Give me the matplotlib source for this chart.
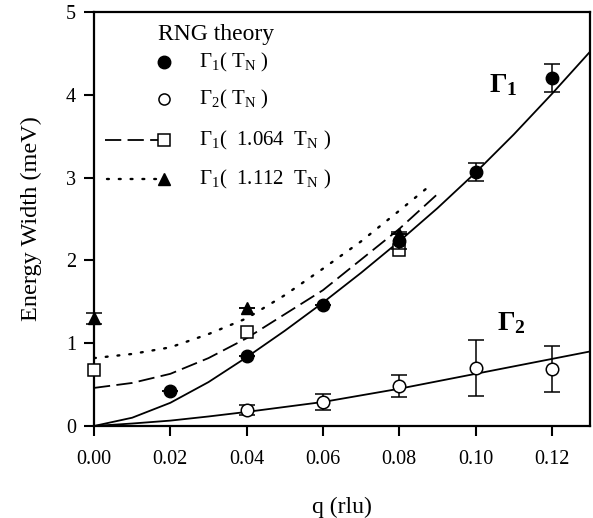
import matplotlib
matplotlib.use("Agg")
import matplotlib.pyplot as plt

plt.rcParams['font.family'] = ['Liberation Serif', 'DejaVu Serif']
plt.rcParams['mathtext.fontset'] = 'custom'
plt.rcParams['mathtext.rm'] = 'Liberation Serif'
plt.rcParams['mathtext.it'] = 'Liberation Serif:italic'
plt.rcParams['mathtext.bf'] = 'Liberation Serif:bold'

# ---- data ----
q_g1 = [0.02, 0.04, 0.06, 0.08, 0.10, 0.12]
g1_TN = [0.42, 0.85, 1.46, 2.24, 3.07, 4.20]
g1_err = [0.0, 0.0, 0.0, 0.10, 0.11, 0.17]

q_g2 = [0.04, 0.06, 0.08, 0.10, 0.12]
g2_TN = [0.19, 0.29, 0.48, 0.70, 0.69]
g2_err = [0.06, 0.10, 0.13, 0.34, 0.28]

q_sq = [0.00, 0.04, 0.08]
g1_1064 = [0.68, 1.13, 2.12]

q_tri = [0.00, 0.04, 0.08]
g1_1112 = [1.30, 1.42, 2.32]
g1_1112_err = [0.065, 0.0, 0.0]

# theory curves
q_fit = [0.00, 0.01, 0.02, 0.03, 0.04, 0.05, 0.06, 0.07, 0.08, 0.09, 0.10, 0.11, 0.12, 0.13]
g1_fit = [0.00, 0.10, 0.28, 0.53, 0.83, 1.15, 1.49, 1.85, 2.23, 2.63, 3.06, 3.52, 4.01, 4.52]
g2_fit = [0.00, 0.03, 0.065, 0.115, 0.17, 0.23, 0.29, 0.37, 0.45, 0.54, 0.63, 0.72, 0.81, 0.90]

q_dash = [0.00, 0.01, 0.02, 0.03, 0.04, 0.05, 0.06, 0.07, 0.08, 0.09]
g1_dash = [0.46, 0.52, 0.63, 0.82, 1.06, 1.35, 1.64, 2.01, 2.38, 2.80]

q_dot = [0.00, 0.01, 0.02, 0.03, 0.04, 0.05, 0.06, 0.07, 0.08, 0.0885]
g1_dot = [0.82, 0.87, 0.95, 1.11, 1.30, 1.58, 1.90, 2.23, 2.60, 2.92]

xticks = [0.00, 0.02, 0.04, 0.06, 0.08, 0.10, 0.12]
yticks = [0, 1, 2, 3, 4, 5]

legend_title = "RNG theory"
legend_labels = [r'Γ$_1$( T$_\mathrm{N}$ )', r'Γ$_2$( T$_\mathrm{N}$ )',
                 r'Γ$_1$(  1.064  T$_\mathrm{N}$ )', r'Γ$_1$(  1.112  T$_\mathrm{N}$ )']

# ---- figure ----
W, H = 593, 518
fig = plt.figure(figsize=(W / 100, H / 100), dpi=100)
L, R, T, B = 94, 590, 12, 426
ax = fig.add_axes([L / W, 1 - B / H, (R - L) / W, (B - T) / H])

lw = 1.3
ax.plot(q_fit, g1_fit, color='black', lw=lw)
ax.plot(q_fit, g2_fit, color='black', lw=lw)
ax.plot(q_dash, g1_dash, color='black', lw=1.3, ls=(0, (9, 3.5)))
ax.plot(q_dot, g1_dot, color='black', lw=1.7, ls=(0, (0.8, 4.2)), dash_capstyle='round')

ms = 9
conts = []
conts.append(ax.errorbar(q_g2, g2_TN, yerr=g2_err, fmt='o', mfc='white', mec='black', mew=1.1,
                         ms=ms, ecolor='black', elinewidth=1.1, capsize=5.5, capthick=1.1, zorder=4))
conts.append(ax.errorbar(q_sq, g1_1064, fmt='s', mfc='white', mec='black', mew=1.1, ms=8, zorder=5))
conts.append(ax.errorbar(q_tri, g1_1112, yerr=g1_1112_err, fmt='^', color='black', ms=9,
                         ecolor='black', elinewidth=1.1, capsize=5.5, capthick=1.1, zorder=6))
conts.append(ax.errorbar(q_g1, g1_TN, yerr=g1_err, fmt='o', color='black', ms=ms,
                         ecolor='black', elinewidth=1.1, capsize=5.5, capthick=1.1, zorder=7))
for c in conts:
    for child in c.get_children():
        child.set_clip_on(False)

ax.set_xlim(0, 0.13)
ax.set_ylim(0, 5)
ax.set_xticks(xticks)
ax.set_xticklabels([f"{v:.2f}" for v in xticks])
ax.set_yticks(yticks)
ax.set_yticklabels([str(v) for v in yticks])
for s in ax.spines.values():
    s.set_linewidth(1.6)
ax.tick_params(axis='both', direction='out', length=7, width=1.5, labelsize=14.5, pad=6)
ax.tick_params(axis='x', pad=10)
ax.set_xlabel('q (rlu)', fontsize=17, labelpad=20)
ax.set_ylabel('Energy Width (meV)', fontsize=17.5, labelpad=17)

# curve annotations
ax.text(0.1035, 4.12, r'Γ$_\mathbf{1}$', fontsize=20, fontweight='bold', ha='left', va='center')
ax.text(0.1055, 1.24, r'Γ$_\mathbf{2}$', fontsize=20, fontweight='bold', ha='left', va='center')

# manual legend (axes fraction coords)
def fx(px):
    return (px - L) / (R - L)

def fy(py):
    return (B - py) / (B - T)

ax.text(fx(158), fy(34), legend_title, transform=ax.transAxes, fontsize=17,
        ha='left', va='center')
rows = [62, 99, 140, 179]
mx = fx(164)
tx = fx(199)
ax.plot([mx], [fy(rows[0])], 'o', color='black', ms=ms, transform=ax.transAxes, clip_on=False)
ax.plot([mx], [fy(rows[1])], 'o', mfc='white', mec='black', mew=1.1, ms=8,
        transform=ax.transAxes, clip_on=False)
ax.plot([fx(105), fx(158)], [fy(rows[2])] * 2, color='black', lw=1.3, ls=(0, (9, 3.5)),
        transform=ax.transAxes, clip_on=False)
ax.plot([mx], [fy(rows[2])], 's', mfc='white', mec='black', mew=1.1, ms=8,
        transform=ax.transAxes, clip_on=False)
ax.plot([fx(107), fx(156)], [fy(rows[3])] * 2, color='black', lw=1.7, ls=(0, (0.8, 4.2)),
        dash_capstyle='round', transform=ax.transAxes, clip_on=False)
ax.plot([mx], [fy(rows[3])], '^', color='black', ms=9, transform=ax.transAxes, clip_on=False)
for r, lab in zip(rows, legend_labels):
    ax.text(tx, fy(r), lab, transform=ax.transAxes, fontsize=15, ha='left', va='center')

fig.savefig('out.png', dpi=100)
